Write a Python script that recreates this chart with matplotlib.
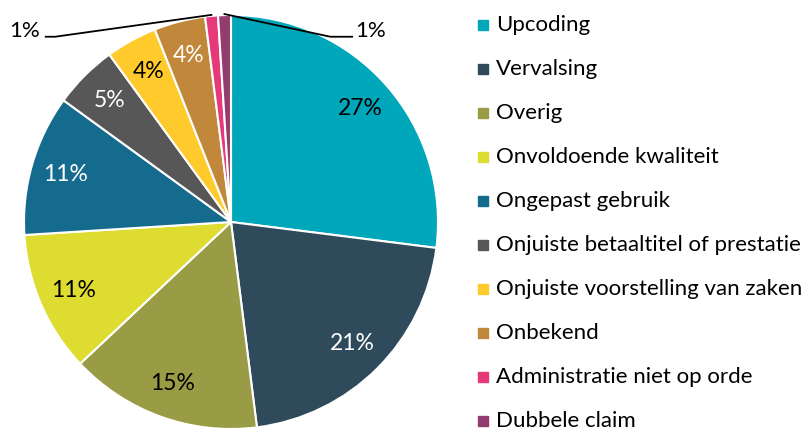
import matplotlib.pyplot as plt
import numpy as np

# data
labels = ['Upcoding', 'Vervalsing', 'Overig', 'Onvoldoende kwaliteit',
          'Ongepast gebruik', 'Onjuiste betaaltitel of prestatie',
          'Onjuiste voorstelling van zaken', 'Onbekend',
          'Administratie niet op orde', 'Dubbele claim']
values = [27, 21, 15, 11, 11, 5, 4, 4, 1, 1]
colors = ['#00A6B9', '#2F4B5B', '#9A9C45', '#DEDC30', '#156B8D',
          '#575757', '#FFCA2B', '#C1873A', '#E6397A', '#943B70']
text_colors = ['black', 'white', 'black', 'black', 'white',
               'white', 'black', 'white', 'black', 'black']

plt.rcParams['font.family'] = ['Lato', 'DejaVu Sans']

fig = plt.figure(figsize=(8.05, 4.3), dpi=100)
# pie centre approx (231, 222) px, radius ~207 px
ax = fig.add_axes([24 / 805, 1 - 429 / 430, 414 / 805, 414 / 430])

wedges, texts, autotexts = ax.pie(
    values, colors=colors, startangle=90, counterclock=False, radius=1,
    autopct='%d%%', pctdistance=0.83,
    wedgeprops=dict(edgecolor='white', linewidth=1.5),
    textprops=dict(fontsize=16.5))
for t, c in zip(autotexts, text_colors):
    t.set_color(c)
ax.set_xlim(-1, 1)
ax.set_ylim(-1, 1)
ax.set_aspect('equal')
ax.axis('off')

# the two 1% slices get outside labels with leader lines
for i, side in [(8, -1), (9, 1)]:
    autotexts[i].set_visible(False)
    w = wedges[i]
    ang = np.deg2rad((w.theta1 + w.theta2) / 2)
    x0, y0 = np.cos(ang) * 1.005, np.sin(ang) * 1.005
    if side < 0:
        xs = [x0, -0.85, -0.895]
        tx = -0.925
        ha = 'right'
    else:
        xs = [x0, 0.48, 0.585]
        tx = 0.6
        ha = 'left'
    ys = [y0, 0.895, 0.895]
    ax.plot(xs, ys, color='black', lw=1.3, clip_on=False)
    ax.text(tx, 0.925, f'{values[i]}%', ha=ha, va='center', fontsize=16,
            clip_on=False)

# legend drawn as square markers + text
for k, (lab, col) in enumerate(zip(labels, colors)):
    y = 1 - (25 + k * 44) / 430
    fig.patches.append(plt.Rectangle((478 / 805, y - 5 / 430), 10 / 805, 10 / 430,
                                     transform=fig.transFigure, color=col))
    fig.text(496 / 805, y, lab, ha='left', va='center', fontsize=16)

fig.savefig('out.png', dpi=100)
